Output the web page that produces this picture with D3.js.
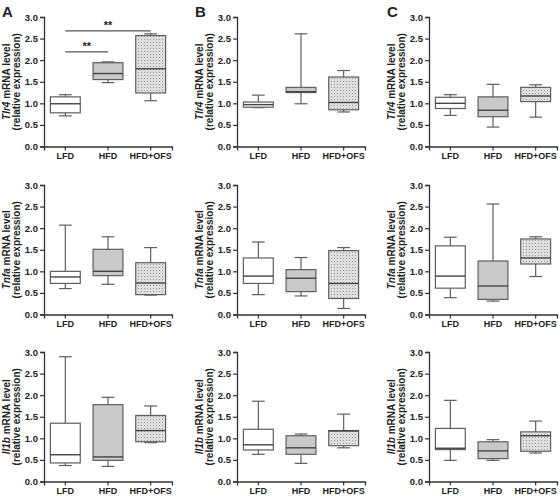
<!DOCTYPE html>
<html><head><meta charset="utf-8">
<script src="https://cdn.jsdelivr.net/npm/d3@7"></script>
<style>body{margin:0;background:#fff}svg{display:block}text{font-family:"Liberation Sans",Arial,sans-serif;font-weight:bold;fill:#222}</style>
</head><body>
<script>
const groups = ["LFD", "HFD", "HFD+OFS"];
const genes = ["Tlr4", "Tnfa", "Il1b"];
const panelLetters = ["A", "B", "C"];
const yTicks = [0, 0.5, 1.0, 1.5, 2.0, 2.5, 3.0];
// each box: [min, q1, median, q3, max]
const tlr4A = [[0.71,0.78,0.99,1.15,1.20],[1.48,1.55,1.69,1.94,1.96],[1.06,1.24,1.80,2.57,2.61]];
const tlr4B = [[0.90,0.91,0.97,1.03,1.19],[0.99,1.25,1.27,1.37,2.61],[0.80,0.85,1.02,1.61,1.76]];
const tlr4C = [[0.72,0.88,1.00,1.14,1.20],[0.45,0.69,0.84,1.15,1.44],[0.68,1.04,1.17,1.37,1.43]];
const tnfaA = [[0.60,0.72,0.87,1.00,2.07],[0.70,0.90,1.00,1.51,1.80],[0.45,0.46,0.73,1.20,1.55]];
const tnfaB = [[0.46,0.72,0.89,1.31,1.68],[0.43,0.53,0.84,1.04,1.32],[0.14,0.37,0.72,1.48,1.55]];
const tnfaC = [[0.39,0.61,0.89,1.59,1.79],[0.31,0.35,0.66,1.24,2.56],[0.88,1.17,1.31,1.75,1.80]];
const il1bA = [[0.37,0.43,0.62,1.35,2.89],[0.35,0.49,0.57,1.78,1.95],[0.90,0.92,1.18,1.53,1.75]];
const il1bB = [[0.63,0.73,0.85,1.21,1.86],[0.42,0.63,0.78,1.06,1.10],[0.78,0.83,1.17,1.18,1.56]];
const il1bC = [[0.49,0.74,0.77,1.23,1.88],[0.49,0.53,0.71,0.92,0.97],[0.66,0.70,1.06,1.15,1.40]];
const sigA = [{from:0, to:1, y:2.19, label:"**"}, {from:0, to:2, y:2.68, label:"**"}];

const grid = [[tlr4A, tlr4B, tlr4C],[tnfaA, tnfaB, tnfaC],[il1bA, il1bB, il1bC]];

const W = 560, H = 497;
const svg = d3.select("body").append("svg").attr("width", W).attr("height", H);
const defs = svg.append("defs");
const pat = defs.append("pattern").attr("id","dots").attr("patternUnits","userSpaceOnUse")
  .attr("width",3).attr("height",3);
pat.append("rect").attr("width",3).attr("height",3).attr("fill","#dedede");
pat.append("rect").attr("x",1).attr("y",1).attr("width",1).attr("height",1).attr("fill","#9c9c9c");

const fills = ["#ffffff", "#c9c9c9", "url(#dots)"];
const colX = [44, 237, 429];
const rowTop = [17, 185, 352];
const plotW = 128, plotH = 129.5;

grid.forEach((row, r) => {
  row.forEach((data, c) => {
    const g = svg.append("g").attr("transform", `translate(${colX[c]},${rowTop[r]})`);
    const x = d3.scaleBand().domain(groups).range([0, plotW]).padding(0);
    const y = d3.scaleLinear().domain([0, 3]).range([plotH, 0]);
    const bw = x.bandwidth() * 0.7, cap = x.bandwidth() * 0.3;

    data.forEach((d, i) => {
      const cx = x(groups[i]) + x.bandwidth() / 2;
      const bg = g.append("g").attr("stroke", "#5e5e5e").attr("stroke-width", 1.2);
      bg.append("line").attr("x1", cx).attr("x2", cx).attr("y1", y(d[4])).attr("y2", y(d[3]));
      bg.append("line").attr("x1", cx).attr("x2", cx).attr("y1", y(d[1])).attr("y2", y(d[0]));
      bg.append("line").attr("x1", cx - cap/2).attr("x2", cx + cap/2).attr("y1", y(d[4])).attr("y2", y(d[4]));
      bg.append("line").attr("x1", cx - cap/2).attr("x2", cx + cap/2).attr("y1", y(d[0])).attr("y2", y(d[0]));
      bg.append("rect").attr("x", cx - bw/2).attr("width", bw).attr("y", y(d[3])).attr("height", y(d[1]) - y(d[3]))
        .attr("fill", fills[i]);
      bg.append("line").attr("x1", cx - bw/2).attr("x2", cx + bw/2).attr("y1", y(d[2])).attr("y2", y(d[2]))
        .attr("stroke", "#444").attr("stroke-width", 1.4);
    });

    const ya = g.append("g").call(d3.axisLeft(y).tickValues(yTicks).tickFormat(d3.format(".1f")).tickSize(4).tickPadding(2));
    const xa = g.append("g").attr("transform", `translate(0,${plotH})`).call(d3.axisBottom(x).tickSize(4).tickPadding(2));
    [ya, xa].forEach(a => {
      a.select(".domain").attr("stroke", "#333").attr("stroke-width", 1.3);
      a.selectAll(".tick line").attr("stroke", "#333").attr("stroke-width", 1.2);
      a.selectAll("text").attr("fill", "#222")
        .attr("font-family", '"Liberation Sans",Arial,sans-serif').attr("font-weight", "bold");
    });
    ya.selectAll("text").attr("font-size", 9.5);
    xa.selectAll("text").attr("font-size", 9);

    const t = g.append("text").attr("transform", `translate(-34,${plotH/2}) rotate(-90)`)
      .attr("text-anchor", "middle").attr("font-size", 10);
    t.append("tspan").attr("font-style", "italic").text(genes[r]);
    t.append("tspan").text(" mRNA level");
    g.append("text").attr("transform", `translate(-24,${plotH/2}) rotate(-90)`)
      .attr("text-anchor", "middle").attr("font-size", 10).text("(relative expression)");

    if (r === 0) {
      g.append("text").attr("x", -42).attr("y", 0).attr("font-size", 15).text(panelLetters[c]);
    }
    if (r === 0 && c === 0) {
      sigA.forEach(s => {
        const x1 = x(groups[s.from]) + x.bandwidth()/2, x2 = x(groups[s.to]) + x.bandwidth()/2;
        g.append("line").attr("x1", x1).attr("x2", x2).attr("y1", y(s.y)).attr("y2", y(s.y))
          .attr("stroke", "#555").attr("stroke-width", 1.2);
        g.append("text").attr("x", (x1 + x2) / 2).attr("y", y(s.y) - 2).attr("text-anchor", "middle")
          .attr("font-size", 11).text(s.label);
      });
    }
  });
});
</script>
</body></html>
